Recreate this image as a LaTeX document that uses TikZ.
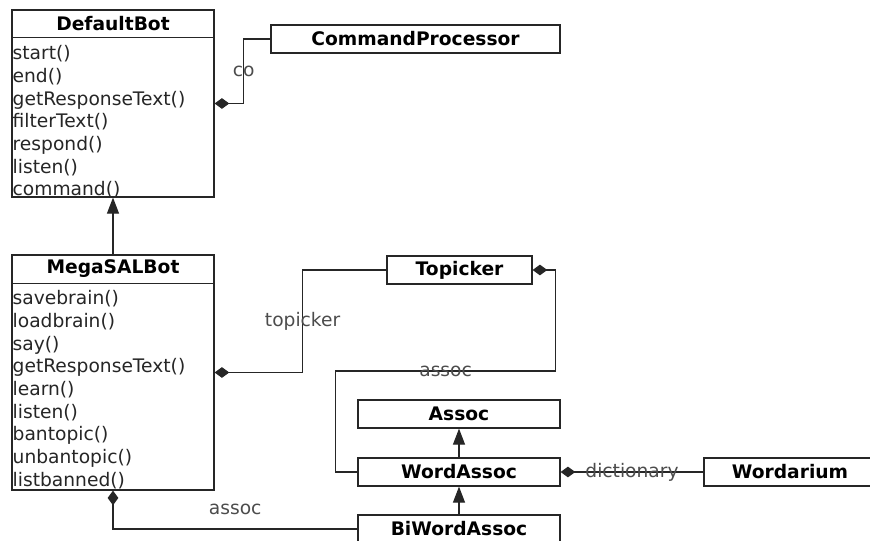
\documentclass[tikz,border=0pt]{standalone}
\usepackage{fontspec}
\setmainfont{DejaVu Sans}
\usetikzlibrary{arrows.meta,calc}

\newcommand{\umlfont}{\fontsize{14}{17}\selectfont}

\tikzset{
  umlbox/.style={draw=black!85, line width=0.9pt, fill=white, inner sep=0pt},
  divider/.style={draw=black!85, line width=0.9pt},
  clsname/.style={font=\umlfont\bfseries, inner sep=0pt},
  ops/.style={align=left, inner sep=0pt, anchor=north west, text=black!85},
  role/.style={text=black!70, inner sep=1pt},
  has/.style={draw=black!85, line width=0.8pt, {Diamond[length=11pt,width=8pt]}-},
  isa/.style={draw=black!85, line width=0.8pt, -{Triangle[length=12pt,width=9pt]}},
}

\begin{document}
\begin{tikzpicture}[x=0.75pt, y=-0.75pt, font=\umlfont]
\useasboundingbox (0,0) rectangle (870,541);

% the two bot classes
\node[umlbox, minimum width=151.5pt, minimum height=140.25pt] (db) at (113,103.5) {};
\draw[divider] ($(db.north west)+(0,28)$) -- ($(db.north east)+(0,28)$);
\node[clsname] (dbname) at ($(db.north)+(0,14)$) {DefaultBot};
\node[ops] (dbops) at ($(db.north west)+(1,36)$)
  {start()\\end()\\getResponseText()\\filterText()\\respond()\\listen()\\command()};

\node[umlbox, minimum width=151.5pt, minimum height=176.25pt] (msb) at (113,372.5) {};
\draw[divider] ($(msb.north west)+(0,29)$) -- ($(msb.north east)+(0,29)$);
\node[clsname] (msbname) at ($(msb.north)+(0,14.5)$) {MegaSALBot};
\node[ops] (msbops) at ($(msb.north west)+(1,36)$)
  {savebrain()\\loadbrain()\\say()\\getResponseText()\\learn()\\listen()\\bantopic()\\unbantopic()\\listbanned()};

% plain classes
\node[umlbox, minimum width=216.75pt, minimum height=21pt] (cp) at (415.5,39) {};
\node[clsname] at (cp) {CommandProcessor};
\node[umlbox, minimum width=108.75pt, minimum height=21pt] (tp) at (459.5,270) {};
\node[clsname] at (tp) {Topicker};
\node[umlbox, minimum width=151.5pt, minimum height=21pt] (as) at (459,414) {};
\node[clsname] at (as) {Assoc};
\node[umlbox, minimum width=151.5pt, minimum height=21pt] (wa) at (459,472) {};
\node[clsname] at (wa) {WordAssoc};
\node[umlbox, minimum width=151.5pt, minimum height=21pt] (bwa) at (459,529) {};
\node[clsname] at (bwa) {BiWordAssoc};
\node[umlbox, minimum width=129pt, minimum height=21pt] (wd) at (790,472) {};
\node[clsname] at (wd) {Wordarium};

% generalisations
\draw[isa] (msb.north) -- (db.south);
\draw[isa] (wa.north) -- (as.south);
\draw[isa] (bwa.north) -- (wa.south);

% compositions
\draw[has] (db.east) -- ++(29,0) |- (cp.west) node[role, pos=0.25] {co};
\draw[has] (msb.east) -- ++(88,0) |- (tp.west) node[role, pos=0.25] {topicker};
\draw[has] (tp.east) -- ++(23,0) -- ++(0,101) -- node[role] {assoc} ++(-220,0) |- (wa.west);
\draw[has] (wa.east) -- node[role] {dictionary} (wd.west);
\draw[has] (msb.south) |- (bwa.west) node[role, pos=0.75, yshift=15pt] {assoc};
\end{tikzpicture}
\end{document}
